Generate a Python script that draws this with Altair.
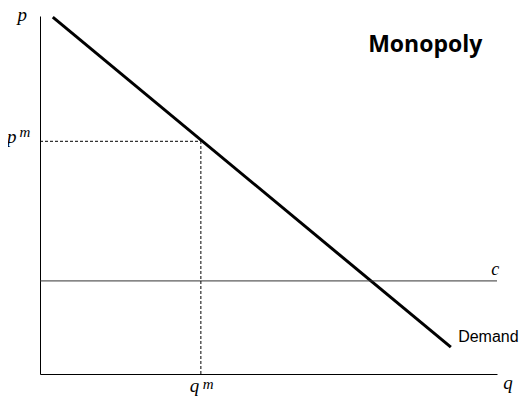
import altair as alt
import pandas as pd

# Data (abstract units: q and p both 0..10)
demand_q = [0.28, 8.99]
demand_p = [9.97, 0.75]
cost_c = 2.6
q_m = 3.52
p_m = 6.5

# label table: text, q, p, size
lab_text = ["p", "p", "m", "q", "m", "c", "q"]
lab_q = [-0.39, -0.62, -0.33, 3.38, 3.68, 9.96, 10.24]
lab_p = [9.85, 6.45, 6.62, -0.50, -0.43, 2.77, -0.42]
lab_size = [19, 19, 15, 19, 15, 18, 19]

xs = alt.Scale(domain=[0, 10], nice=False, zero=False)
ys = alt.Scale(domain=[0, 10], nice=False, zero=False)
ax = alt.Axis(labels=False, ticks=False, grid=False, title=None, domainColor="black", domainWidth=1)

demand_df = pd.DataFrame({"q": demand_q, "p": demand_p})
demand = alt.Chart(demand_df).mark_line(color="black", strokeWidth=3).encode(
    x=alt.X("q:Q", scale=xs, axis=ax),
    y=alt.Y("p:Q", scale=ys, axis=ax),
)

c_df = pd.DataFrame({"q": [0, 10], "p": [cost_c, cost_c]})
cline = alt.Chart(c_df).mark_line(color="#333333", strokeWidth=1).encode(
    x=alt.X("q:Q", scale=xs), y=alt.Y("p:Q", scale=ys)
)

h_df = pd.DataFrame({"q": [0, q_m], "p": [p_m, p_m]})
hdash = alt.Chart(h_df).mark_line(color="black", strokeWidth=1, strokeDash=[3, 2]).encode(
    x=alt.X("q:Q", scale=xs), y=alt.Y("p:Q", scale=ys)
)
v_df = pd.DataFrame({"q": [q_m, q_m], "p": [0, p_m]})
vdash = alt.Chart(v_df).mark_line(color="black", strokeWidth=1, strokeDash=[3, 2]).encode(
    x=alt.X("q:Q", scale=xs), y=alt.Y("p:Q", scale=ys)
)

lab_df = pd.DataFrame({"t": lab_text, "q": lab_q, "p": lab_p, "s": lab_size})
labels = alt.Chart(lab_df).mark_text(
    font="Liberation Serif", fontStyle="italic", align="center", baseline="alphabetic", color="black"
).encode(
    x=alt.X("q:Q", scale=xs), y=alt.Y("p:Q", scale=ys), text="t:N",
    size=alt.Size("s:Q", scale=None, legend=None),
)

dem_lab = alt.Chart(pd.DataFrame({"t": ["Demand"], "q": [9.15], "p": [0.89]})).mark_text(
    font="Liberation Sans", fontSize=16, align="left", baseline="alphabetic", color="black"
).encode(x=alt.X("q:Q", scale=xs), y=alt.Y("p:Q", scale=ys), text="t:N")

title_lab = alt.Chart(pd.DataFrame({"t": ["Monopoly"], "q": [7.18], "p": [8.99]})).mark_text(
    font="Open Sans", fontSize=23, fontWeight="bold", align="left", baseline="alphabetic", color="black"
).encode(x=alt.X("q:Q", scale=xs), y=alt.Y("p:Q", scale=ys), text="t:N")

chart = alt.layer(demand, cline, hdash, vdash, labels, dem_lab, title_lab).properties(
    width=457, height=358,
    autosize=alt.AutoSizeParams(type="none"),
    padding={"left": 32, "top": 8, "right": 22, "bottom": 22},
).configure_view(stroke=None)

chart.save("out.html", embed_options={"renderer": "svg", "actions": False})
